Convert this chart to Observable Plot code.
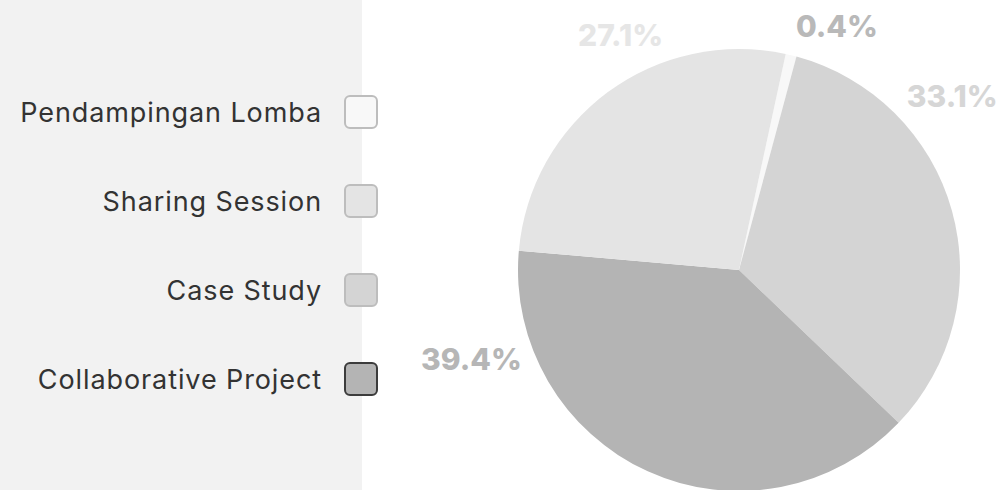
<!DOCTYPE html>
<html>
<head>
<meta charset="utf-8">
<script src="https://cdn.jsdelivr.net/npm/d3@7"></script>
<script src="https://cdn.jsdelivr.net/npm/@observablehq/plot@0.6"></script>
<style>
  html, body { margin: 0; padding: 0; background: #ffffff; }
  #wrap { position: relative; width: 1003px; height: 490px; overflow: hidden; font-family: Inter, "Noto Sans", sans-serif; }
  #panel { position: absolute; left: 0; top: 0; width: 362px; height: 490px; background: #f2f2f2; }
  #chart { position: absolute; left: 0; top: 0; }
  #legend { position: absolute; left: 0; top: 0; width: 1003px; height: 490px; pointer-events: none; }
  .item { position: absolute; left: 0; width: 378px; height: 34px; display: flex; align-items: center; justify-content: flex-end; }
  .item span { font-size: 27px; font-weight: 400; letter-spacing: 0.9px; color: #333333; margin-right: 22px; white-space: nowrap; }
  .item i { display: block; width: 30px; height: 30px; border: 2px solid #bdbdbd; border-radius: 6px; box-sizing: content-box; }
</style>
</head>
<body>
<div id="wrap">
  <div id="panel"></div>
  <div id="chart"></div>
  <div id="legend"></div>
</div>
<script>
// ---- data ----
const categories = ["Pendampingan Lomba", "Sharing Session", "Case Study", "Collaborative Project"];
const values = [0.4, 27.1, 33.1, 39.4];           // percent
const labels = ["0.4%", "27.1%", "33.1%", "39.4%"];
// drawing order of the slices, clockwise
const sliceOrder = ["Pendampingan Lomba", "Case Study", "Collaborative Project", "Sharing Session"];

// ---- styles / layout ----
const colors = ["#f8f8f8", "#e4e4e4", "#d4d4d4", "#b4b4b4"];
const labelColors = ["#b9b9b9", "#e6e6e6", "#d6d6d6", "#b6b6b6"];
const legendBorders = ["#bdbdbd", "#bdbdbd", "#bdbdbd", "#3c3c3c"];
const W = 1003, H = 490, CX = 739, CY = 270, R = 221;
const startDeg = 12.2;
const minShare = 0.8;   // smallest visible slice share (keeps tiny slices visible)
// label placement relative to slice middle: [angle shift deg, radius factor]
const labelShift = {
  "Pendampingan Lomba": [8.2, 1.185],
  "Sharing Session": [9.5, 1.19],
  "Case Study": [-23.5, 1.24],
  "Collaborative Project": [47.0, 1.28]
};

const table = categories.map((c, i) => ({category: c, value: values[i], label: labels[i], labelColor: labelColors[i]}));
const ordered = sliceOrder.map(c => table.find(d => d.category === c));

const color = Plot.scale({color: {type: "ordinal", domain: categories, range: colors}});

const pie = d3.pie().sort(null).value(d => Math.max(d.value, minShare))
  .startAngle(startDeg * Math.PI / 180)
  .endAngle(startDeg * Math.PI / 180 + 2 * Math.PI);
const arcs = pie(ordered);

// label anchor points in unit (pie radius) coordinates
const labelData = arcs.map(a => {
  const [shift, k] = labelShift[a.data.category];
  const mid = (a.startAngle + a.endAngle) / 2 + shift * Math.PI / 180;
  return {...a.data, ux: k * Math.sin(mid), uy: k * Math.cos(mid)};
});

function pieMark(index, scales) {
  const cx = scales.x(0), cy = scales.y(0), r = scales.x(1) - cx;
  const arc = d3.arc().innerRadius(0).outerRadius(r);
  const g = d3.create("svg:g").attr("transform", `translate(${cx},${cy})`);
  g.selectAll("path").data(arcs).join("path")
    .attr("d", arc)
    .attr("fill", d => color.apply(d.data.category));
  return g.node();
}

const plot = Plot.plot({
  width: W,
  height: H,
  margin: 0,
  style: {background: "transparent", overflow: "visible"},
  x: {domain: [-1, 1], range: [CX - R, CX + R], axis: null},
  y: {domain: [-1, 1], range: [CY + R, CY - R], axis: null},
  marks: [
    pieMark,
    Plot.text(labelData, {
      x: "ux", y: "uy", text: "label",
      fill: d => d.labelColor,
      fontSize: 30, fontWeight: 800,
      fontFamily: "Inter, 'Noto Sans', sans-serif",
      textAnchor: "middle", lineAnchor: "middle"
    })
  ]
});
document.getElementById("chart").appendChild(plot);

// legend
const centers = [112, 201, 290, 379];
const legend = d3.select("#legend");
categories.forEach((c, i) => {
  const it = legend.append("div").attr("class", "item").style("top", (centers[i] - 17) + "px");
  it.append("span").text(c);
  it.append("i").style("background", color.apply(c)).style("border-color", legendBorders[i]);
});
</script>
</body>
</html>
